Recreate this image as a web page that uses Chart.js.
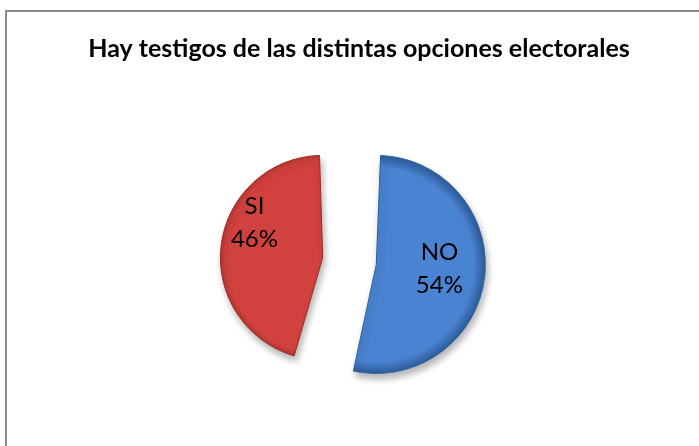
<!DOCTYPE html>
<html>
<head>
<meta charset="utf-8">
<script src="https://cdn.jsdelivr.net/npm/chart.js@4"></script>
<style>
  body { margin: 0; background: #fff; }
  #frame { position: absolute; left: 5px; top: 10px; width: 800px; height: 600px; border: 2px solid #8c8c8c; }
  #wrap { position: absolute; left: 0; top: 0; width: 699px; height: 446px; }
</style>
</head>
<body>
<div id="frame"></div>
<div id="wrap"><canvas id="pieChart" width="699" height="446"></canvas></div>
<script>
// Data - Hay testigos de las distintas opciones electorales
const title = "Hay testigos de las distintas opciones electorales";
const labels = ["NO", "SI"];
const values = [54, 46];
const colors = ["#4a83d1", "#d1413d"];
const edgeColors = ["#2f5f9f", "#9a2a27"];

// title is centred on the whole frame, not on the plot
const titlePlugin = {
    id: "frameTitle",
    afterDraw(chart) {
        const ctx = chart.ctx;
        ctx.save();
        ctx.font = "bold 25px Lato";
        ctx.fillStyle = "#000";
        ctx.textAlign = "center";
        ctx.textBaseline = "middle";
        ctx.fillText(title, 359, 49);
        ctx.restore();
    }
};

// shadow under the slices
const shadowPlugin = {
    id: "shadow",
    beforeDatasetsDraw(chart) {
        const ctx = chart.ctx;
        ctx.save();
        ctx.shadowColor = "rgba(0,0,0,0.3)";
        ctx.shadowBlur = 7;
        ctx.shadowOffsetX = 2;
        ctx.shadowOffsetY = 5;
    },
    afterDatasetsDraw(chart) {
        chart.ctx.restore();
    }
};

// "NO\n54%" labels inside the slices
const sliceLabels = {
    id: "sliceLabels",
    afterDatasetsDraw(chart, args, opts) {
        const ctx = chart.ctx;
        const meta = chart.getDatasetMeta(0);
        const total = values.reduce((a, b) => a + b, 0);
        ctx.save();
        ctx.font = "24px Lato";
        ctx.fillStyle = "#000";
        ctx.textAlign = "center";
        ctx.textBaseline = "middle";
        meta.data.forEach((arc, i) => {
            const p = arc.getProps(["x", "y", "startAngle", "endAngle", "outerRadius", "circumference"], true);
            const half = (p.startAngle + p.endAngle) / 2;
            const off = arc.options.offset / 4;
            const fix = 1 - Math.sin(Math.min(Math.PI, p.circumference));
            const cx = p.x + Math.cos(half) * off;
            const cy = p.y + Math.sin(half) * off;
            const a = half + opts.angle[i] * Math.PI / 180;
            const r = (p.outerRadius + off * fix) * opts.frac[i];
            const lx = cx + Math.cos(a) * r;
            const ly = cy + Math.sin(a) * r;
            const pct = Math.round(values[i] / total * 100) + "%";
            ctx.fillText(labels[i], lx, ly - 16);
            ctx.fillText(pct, lx, ly + 17);
        });
        ctx.restore();
    }
};

function sliceFill(context) {
    const i = context.dataIndex;
    const area = context.chart.chartArea;
    if (!area) return colors[i];
    const cx = (area.left + area.right) / 2;
    const cy = (area.top + area.bottom) / 2;
    const g = context.chart.ctx.createRadialGradient(cx, cy, 0, cx, cy, 108);
    g.addColorStop(0, colors[i]);
    g.addColorStop(0.9, colors[i]);
    g.addColorStop(1, edgeColors[i]);
    return g;
}

new Chart(document.getElementById("pieChart"), {
    type: "pie",
    data: {
        labels: labels,
        datasets: [{
            data: values,
            backgroundColor: sliceFill,
            borderColor: edgeColors,
            borderWidth: 1,
            offset: 108,
            radius: 82
        }]
    },
    plugins: [shadowPlugin, sliceLabels, titlePlugin],
    options: {
        responsive: false,
        animation: false,
        layout: { padding: { top: 100, bottom: 24 } },
        plugins: {
            legend: { display: false },
            tooltip: { enabled: false },
            title: { display: false },
            sliceLabels: { frac: [0.58, 0.75], angle: [-4, 20] }
        }
    }
});
</script>
</body>
</html>
